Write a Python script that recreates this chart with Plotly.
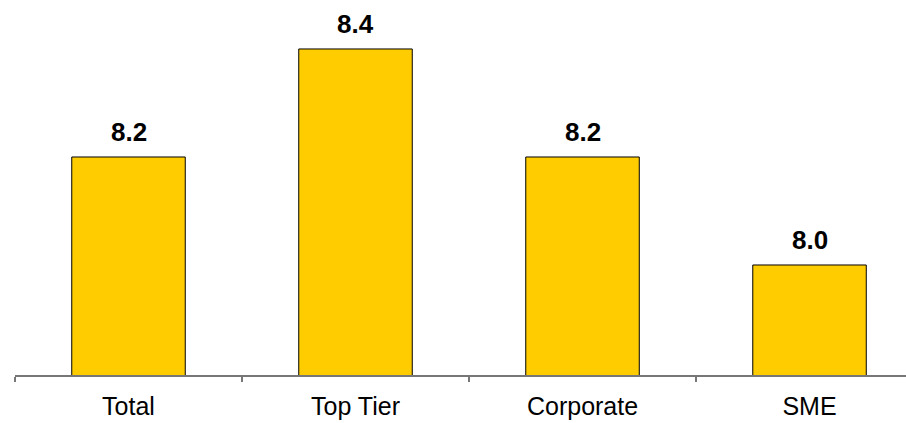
import plotly.graph_objects as go

categories = ["Total", "Top Tier", "Corporate", "SME"]
values = [8.2, 8.4, 8.2, 8.0]
labels = ["8.2", "8.4", "8.2", "8.0"]

fig = go.Figure()
fig.add_trace(go.Bar(
    x=categories, y=values, width=0.5,
    marker=dict(color="#FFCC00", line=dict(color="#000000", width=1)),
    hoverinfo="skip",
))
for c, v, t in zip(categories, values, labels):
    fig.add_annotation(x=c, y=v, text="<b>%s</b>" % t, showarrow=False,
                       yanchor="bottom", yshift=8,
                       font=dict(family="Liberation Sans, Arial", size=26, color="#000000"))

fig.update_layout(
    width=906, height=423,
    margin=dict(l=15, r=0, t=0, b=48, autoexpand=False),
    paper_bgcolor="white", plot_bgcolor="white",
    showlegend=False,
    bargap=0.5,
    font=dict(family="Liberation Sans, Arial", size=24, color="#000000"),
)
fig.update_xaxes(
    range=[-0.5, 3.425], showline=True, linecolor="#777777", linewidth=1.5,
    ticks="outside", tickson="boundaries", ticklen=5, tickcolor="#777777", tickwidth=1.5,
    showgrid=False, zeroline=False, automargin=False,
    tickfont=dict(family="Liberation Sans, Arial", size=25, color="#000000"),
    ticklabelstandoff=8,
)
fig.update_yaxes(range=[7.7963, 8.4907], visible=False, showgrid=False, automargin=False)

fig.write_html("out.html")
